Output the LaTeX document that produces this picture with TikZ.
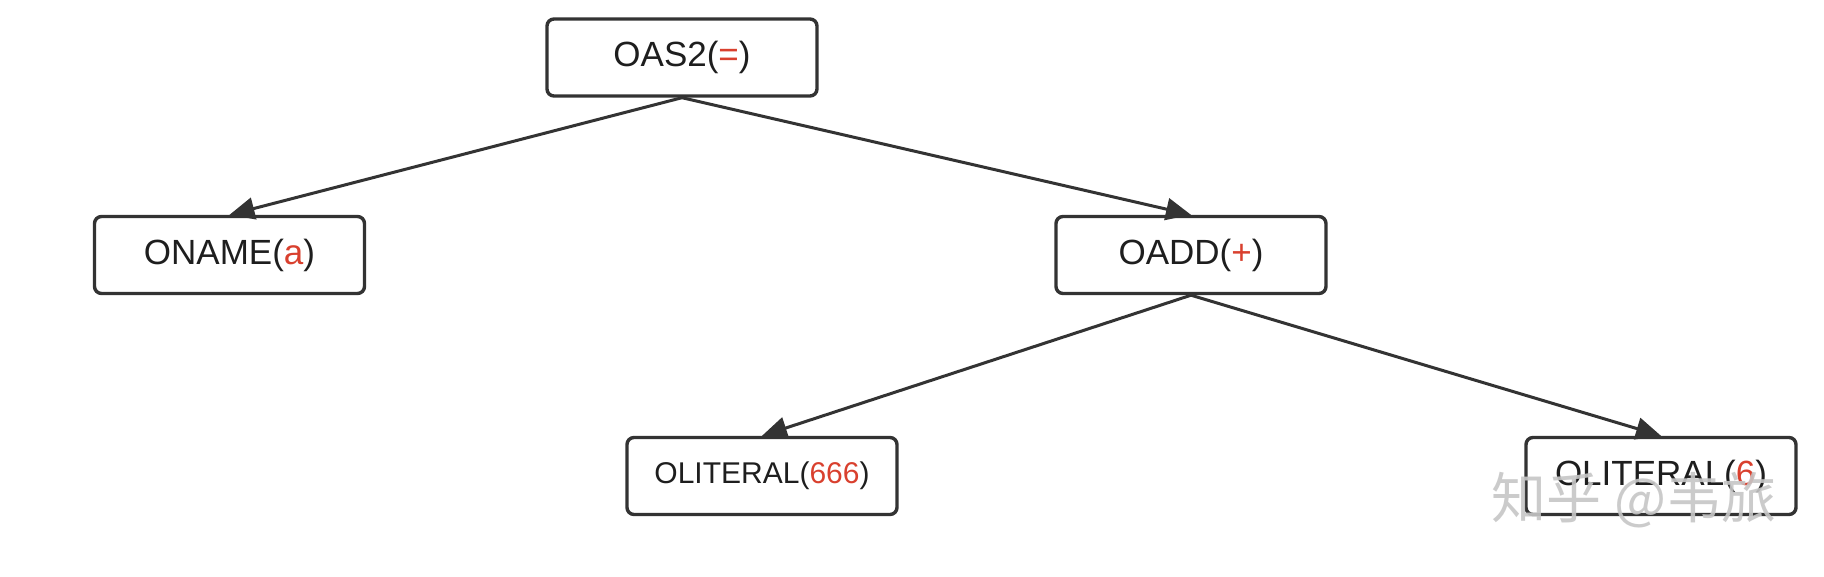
\documentclass[tikz,border=0pt]{standalone}
\usepackage{fontspec}
\setmainfont{Liberation Sans}
\newfontfamily\cjk{Noto Sans CJK SC}
\usetikzlibrary{arrows.meta}
\definecolor{edge}{HTML}{333333}
\definecolor{hl}{HTML}{D9402E}
\definecolor{txt}{HTML}{1E1E1E}
\begin{document}
\begin{tikzpicture}[x=1pt,y=-1pt,
  box/.style={draw=edge, line width=3.4pt, rounded corners=7pt, minimum width=270pt,
    minimum height=77pt, inner sep=0pt, fill=white, text=txt,
    font=\fontsize{35}{42}\selectfont},
  smalltext/.style={font=\fontsize{30}{36}\selectfont},
  link/.style={draw=edge, line width=3pt, -{Triangle[length=25pt,width=22pt]}}]
\useasboundingbox[fill=white] (0,0) rectangle (1824,576);
\node[box] (oas2) at (682,57.5) {OAS2(\textcolor{hl}{=})};
\node[box] (oname) at (229.5,255) {ONAME(\textcolor{hl}{a})};
\node[box] (oadd) at (1191,255) {OADD(\textcolor{hl}{+})};
\node[box,smalltext] (lit666) at (762,476) {OLITERAL(\textcolor{hl}{666})};
\node[box] (lit6) at (1661,476) {OLITERAL(\textcolor{hl}{6})};
\draw[link] (oas2.south) -- (oname.north);
\draw[link] (oas2.south) -- (oadd.north);
\draw[link] (oadd.south) -- (lit666.north);
\draw[link] (oadd.south) -- (lit6.north);
\node[text=gray!45, opacity=0.9, inner sep=0pt, font=\cjk\fontsize{55}{60}\selectfont] (wm) at (1634,500) {知乎 @韦旅};
\end{tikzpicture}
\end{document}
